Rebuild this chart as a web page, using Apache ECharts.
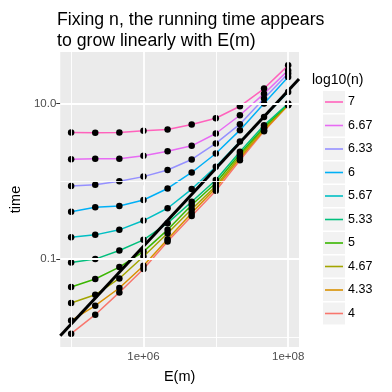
<!DOCTYPE html>
<html>
<head>
<meta charset="utf-8">
<script src="https://cdn.jsdelivr.net/npm/echarts@6/dist/echarts.min.js"></script>
<style>
  html, body { margin: 0; padding: 0; background: #fff; }
  #chart { width: 392px; height: 392px; }
</style>
</head>
<body>
<div id="chart"></div>
<script>
// E(m) values (x) and the levels of log10(n)
var edgeCounts = [100000, 215443, 464159, 1000000, 2154435, 4641589, 10000000, 21544347, 46415888, 100000000];
var nLevels = ['4', '4.33', '4.67', '5', '5.33', '5.67', '6', '6.33', '6.67', '7'];

// running time for each level of log10(n)
var time4    = [0.0110, 0.0193, 0.0373, 0.0745, 0.168, 0.359, 0.757, 1.87, 4.42, 9.62];
var time4_33 = [0.0162, 0.0252, 0.0425, 0.0820, 0.180, 0.393, 0.820, 1.99, 4.55, 9.51];
var time4_67 = [0.0273, 0.0348, 0.0564, 0.108, 0.215, 0.438, 0.871, 2.11, 4.78, 9.73];
var time5    = [0.0438, 0.0555, 0.0789, 0.125, 0.238, 0.497, 0.951, 2.24, 4.97, 9.86];
var time5_33 = [0.0904, 0.100, 0.129, 0.177, 0.290, 0.547, 1.04, 2.40, 5.27, 10.0];
var time5_67 = [0.191, 0.205, 0.238, 0.313, 0.451, 0.796, 1.54, 3.26, 6.73, 14.1];
var time6    = [0.407, 0.464, 0.482, 0.576, 0.809, 1.30, 2.28, 4.55, 10.0, 21.9];
var time6_33 = [0.871, 0.904, 1.00, 1.15, 1.40, 1.91, 3.07, 5.43, 11.6, 24.3];
var time6_67 = [1.93, 1.95, 1.95, 2.13, 2.43, 2.86, 4.12, 7.08, 13.4, 26.7];
var time7    = [4.25, 4.20, 4.25, 4.46, 4.64, 5.38, 6.48, 9.23, 15.6, 31.0];
var timesByLevel = [time4, time4_33, time4_67, time5, time5_33, time5_67, time6, time6_33, time6_67, time7];

// reference line: log10(time) = slope * log10(E) + intercept
var refSlope = 1;
var refIntercept = -6.835;

// axis ticks (log10 space) and their labels
var xTickValues = [6, 8];
var xTickLabels = ['1e+06', '1e+08'];
var yTickValues = [-1, 1];
var yTickLabels = ['0.1', '10.0'];
var xMinorValues = [5, 7];
var yMinorValues = [-2, 0];

var colors = ['#F8766D', '#D89000', '#A3A500', '#39B600', '#00BF7D',
              '#00BFC4', '#00B0F6', '#9590FF', '#E76BF3', '#FF62BC'];

var xMin = 4.85, xMax = 8.15, yMin = -2.13, yMax = 1.663;
var FONT = '"Liberation Sans", Arial, sans-serif';

var chart = echarts.init(document.getElementById('chart'), null, {renderer: 'canvas'});

function lg(v) { return Math.log10(v); }

var series = [];

// grid lines drawn as mark lines so major/minor can differ
var gridLines = [];
xTickValues.forEach(function (v) { gridLines.push({xAxis: v, lineStyle: {width: 1.8}}); });
xMinorValues.forEach(function (v) { gridLines.push({xAxis: v, lineStyle: {width: 0.9}}); });
yTickValues.forEach(function (v) { gridLines.push({yAxis: v, lineStyle: {width: 1.8}}); });
yMinorValues.forEach(function (v) { gridLines.push({yAxis: v, lineStyle: {width: 0.9}}); });
series.push({
  type: 'line', name: 'grid', data: [], z: 0, silent: true,
  markLine: {
    silent: true, symbol: 'none', label: {show: false},
    lineStyle: {color: '#FFFFFF', type: 'solid'},
    animation: false,
    data: gridLines
  }
});

var points = [];
nLevels.forEach(function (lev, i) {
  var data = edgeCounts.map(function (e, j) { return [lg(e), lg(timesByLevel[i][j])]; });
  series.push({
    type: 'line', name: lev, data: data, showSymbol: false, z: 2,
    lineStyle: {color: colors[i], width: 1.5},
    itemStyle: {color: colors[i]}
  });
  points = points.concat(data);
});

series.push({
  type: 'scatter', name: 'points', data: points, z: 3,
  symbolSize: 6.5, itemStyle: {color: '#000000', opacity: 1}
});

series.push({
  type: 'line', name: 'fit', z: 4, showSymbol: false,
  data: [[xMin, refSlope * xMin + refIntercept], [xMax, refSlope * xMax + refIntercept]],
  lineStyle: {color: '#000000', width: 3}
});

// grey legend key backgrounds
var keyGraphics = [];
for (var k = 0; k < nLevels.length; k++) {
  keyGraphics.push({
    type: 'rect', left: 323, top: 91 + k * 23.5,
    shape: {width: 22, height: 22},
    style: {fill: '#F2F2F2'}, z: 0, silent: true
  });
}

var option = {
  animation: false,
  backgroundColor: '#FFFFFF',
  title: [{
    text: 'Fixing n, the running time appears\nto grow linearly with E(m)',
    left: 52, top: 5,
    textStyle: {fontFamily: FONT, fontSize: 17.7, fontWeight: 'normal', color: '#000000', lineHeight: 20.5}
  }, {
    text: 'log10(n)', left: 307, top: 68,
    textStyle: {fontFamily: FONT, fontSize: 14, fontWeight: 'normal', color: '#000000'}
  }],
  grid: {
    left: 57, top: 52, width: 242, height: 295,
    show: true, backgroundColor: '#EBEBEB', borderWidth: 0
  },
  legend: {
    orient: 'vertical', left: 325, top: 91, padding: 0,
    itemGap: 1.5, itemWidth: 18, itemHeight: 1.6, icon: 'rect',
    data: nLevels.slice().reverse(),
    textStyle: {fontFamily: FONT, fontSize: 12.5, color: '#000000', lineHeight: 22, padding: [0, 0, 0, 0]},
    selectedMode: false
  },
  xAxis: {
    type: 'value', min: xMin, max: xMax,
    axisLine: {show: false},
    splitLine: {show: false},
    axisTick: {show: true, customValues: xTickValues, length: 4, lineStyle: {color: '#333333', width: 1}},
    axisLabel: {
      customValues: xTickValues, margin: 4, color: '#4D4D4D', fontFamily: FONT, fontSize: 11.5,
      formatter: function (v) { return xTickLabels[xTickValues.indexOf(v)]; }
    },
    name: 'E(m)', nameLocation: 'middle', nameGap: 22,
    nameTextStyle: {fontFamily: FONT, fontSize: 14.5, color: '#000000'}
  },
  yAxis: {
    type: 'value', min: yMin, max: yMax,
    axisLine: {show: false},
    splitLine: {show: false},
    axisTick: {show: true, customValues: yTickValues, length: 4, lineStyle: {color: '#333333', width: 1}},
    axisLabel: {
      customValues: yTickValues, margin: 4, color: '#4D4D4D', fontFamily: FONT, fontSize: 11.5,
      formatter: function (v) { return yTickLabels[yTickValues.indexOf(v)]; }
    },
    name: 'time', nameLocation: 'middle', nameGap: 36,
    nameTextStyle: {fontFamily: FONT, fontSize: 14.5, color: '#000000'}
  },
  graphic: keyGraphics,
  series: series
};

chart.setOption(option);
</script>
</body>
</html>
